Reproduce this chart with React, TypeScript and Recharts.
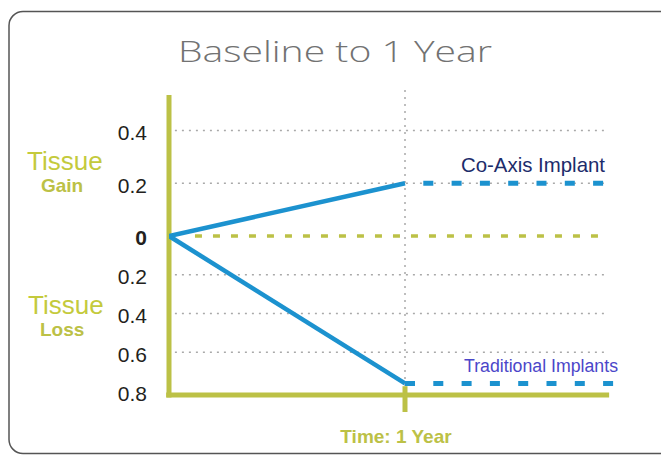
import React from "react";
import { LineChart, Line, XAxis, YAxis, ReferenceLine } from "recharts";

// time in years (0 = baseline)
const years = [0, 1];
const coAxisGain = [0, 0.2];
const traditionalLoss = [0, 0.76]; // loss magnitude
const projectionEnd = [1.84, 1.9]; // co-axis, traditional
const gainTicks = [0.4, 0.2];
const lossTicks = [0.2, 0.4, 0.6, 0.8];
const lossGrid = [0.2, 0.4, 0.6];

// loss side of the axis is drawn tighter than the gain side
const LOSS_SCALE = 0.736;
const toPlot = (v: number) => (v >= 0 ? v : v * LOSS_SCALE);

const GREEN = "#bcc146";
const GREEN_TEXT = "#c4ca3c";
const BLUE = "#1c92cf";
const GRID = "#a9a9a9";
const FONT = "'Liberation Sans', Arial, sans-serif";

const Y_TOP = 0.5617;
const Y_BOTTOM = -0.6034;
const X_END = 1.865;

const coAxisData = years.map((t, i) => ({ t, v: toPlot(coAxisGain[i]) }));
const traditionalData = years.map((t, i) => ({ t, v: toPlot(-traditionalLoss[i]) }));
const coAxisProj = [
  { t: years[1], v: toPlot(coAxisGain[1]) },
  { t: projectionEnd[0], v: toPlot(coAxisGain[1]) },
];
const traditionalProj = [
  { t: years[1], v: toPlot(-traditionalLoss[1]) },
  { t: projectionEnd[1], v: toPlot(-traditionalLoss[1]) },
];

const yTicks = [...gainTicks, 0, ...lossTicks.map((v) => toPlot(-v))];
const tickLabel = (v: number) => {
  const raw = v >= 0 ? v : v / LOSS_SCALE;
  const a = Math.round(Math.abs(raw) * 10) / 10;
  return a === 0 ? "0" : a.toFixed(1);
};

const YTick = (props: any) => {
  const { x, y, payload } = props;
  const label = tickLabel(payload.value);
  return (
    <text
      x={x}
      y={y}
      dy="0.45em"
      textAnchor="end"
      fontFamily={FONT}
      fontSize={21}
      fontWeight={label === "0" ? 700 : 400}
      fill="#231f20"
    >
      {label}
    </text>
  );
};

export default function App() {
  return (
    <div style={{ position: "absolute", left: 0, top: 0, width: 661, height: 456, overflow: "hidden", background: "#fff" }}>
      <svg width={661} height={456} style={{ position: "absolute", left: 0, top: 0 }}>
        <rect x={9} y={11.5} width={680} height={442} rx={14} fill="#fff" stroke="#555" strokeWidth={1.5} />
        <text x={335} y={62} textAnchor="middle" fontFamily="'Open Sans', sans-serif" fontWeight={300} fontSize={30} fill="#727272" textLength={314} lengthAdjust="spacingAndGlyphs">
          Baseline to 1 Year
        </text>
        <text x={27} y={170} fontFamily={FONT} fontSize={26} fill={GREEN_TEXT}>Tissue</text>
        <text x={41} y={191.5} fontFamily={FONT} fontSize={19} fontWeight={700} fill={GREEN}>Gain</text>
        <text x={28} y={313.5} fontFamily={FONT} fontSize={26} fill={GREEN_TEXT}>Tissue</text>
        <text x={40} y={335.5} fontFamily={FONT} fontSize={19} fontWeight={700} fill={GREEN}>Loss</text>
        <text x={605} y={171.5} textAnchor="end" fontFamily={FONT} fontSize={21} fill="#1d2c6b" textLength={144} lengthAdjust="spacingAndGlyphs">Co-Axis Implant</text>
        <text x={618} y={371.5} textAnchor="end" fontFamily={FONT} fontSize={18} fill="#4b46c9" textLength={154} lengthAdjust="spacingAndGlyphs">Traditional Implants</text>
        <text x={396} y={443} textAnchor="middle" fontFamily={FONT} fontSize={19} fontWeight={700} fill={GREEN}>Time: 1 Year</text>
      </svg>
      <div style={{ position: "absolute", left: 0, top: 0 }}>
        <LineChart width={661} height={456} margin={{ top: 88, right: 20, bottom: 61, left: 0 }}>
          <XAxis type="number" dataKey="t" domain={[0, 2]} hide allowDataOverflow />
          <YAxis
            type="number"
            dataKey="v"
            domain={[Y_BOTTOM, Y_TOP]}
            ticks={yTicks}
            interval={0}
            width={169}
            axisLine={false}
            tickLine={false}
            tickSize={0}
            tickMargin={22}
            tick={<YTick />}
            allowDataOverflow
          />
          {[...gainTicks, ...lossGrid.map((v) => -v)].map((g) => (
            <ReferenceLine
              key={g}
              segment={[{ x: 0.025, y: toPlot(g) }, { x: 1.85, y: toPlot(g) }]}
              stroke={GRID}
              strokeWidth={1.5}
              strokeDasharray="2 5"
              ifOverflow="visible"
            />
          ))}
          <ReferenceLine
            segment={[{ x: years[1], y: 0.554 }, { x: years[1], y: Y_BOTTOM }]}
            stroke={GRID}
            strokeWidth={1.5}
            strokeDasharray="2 5"
            ifOverflow="visible"
          />
          <ReferenceLine
            segment={[{ x: 0.11, y: 0 }, { x: 1.82, y: 0 }]}
            stroke={GREEN}
            strokeWidth={3.5}
            strokeDasharray="7 11"
            ifOverflow="visible"
          />
          <ReferenceLine
            segment={[{ x: 0, y: 0.535 }, { x: 0, y: -0.613 }]}
            stroke={GREEN}
            strokeWidth={5}
            ifOverflow="visible"
          />
          <ReferenceLine
            segment={[{ x: -0.012, y: Y_BOTTOM }, { x: X_END, y: Y_BOTTOM }]}
            stroke={GREEN}
            strokeWidth={5}
            ifOverflow="visible"
          />
          <ReferenceLine
            segment={[{ x: years[1], y: -0.57 }, { x: years[1], y: -0.668 }]}
            stroke={GREEN}
            strokeWidth={5}
            ifOverflow="visible"
          />
          <Line data={coAxisData} dataKey="v" stroke={BLUE} strokeWidth={4.5} dot={false} activeDot={false} isAnimationActive={false} />
          <Line data={traditionalData} dataKey="v" stroke={BLUE} strokeWidth={4.5} dot={false} activeDot={false} isAnimationActive={false} />
          <Line data={coAxisProj} dataKey="v" stroke={BLUE} strokeWidth={5} strokeDasharray="0 18.3 10 0" dot={false} activeDot={false} isAnimationActive={false} />
          <Line data={traditionalProj} dataKey="v" stroke={BLUE} strokeWidth={5} strokeDasharray="10 18.3" dot={false} activeDot={false} isAnimationActive={false} />
        </LineChart>
      </div>
    </div>
  );
}
